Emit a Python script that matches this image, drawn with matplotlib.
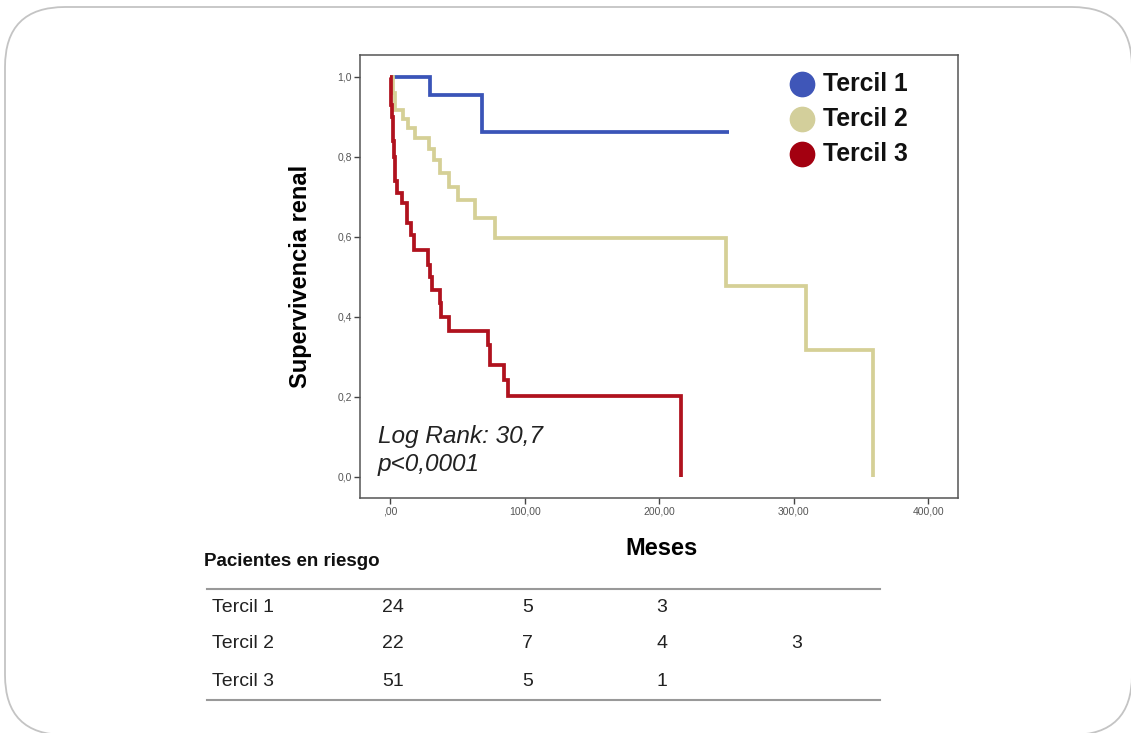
import matplotlib
matplotlib.use("Agg")
import matplotlib.pyplot as plt
from matplotlib.patches import FancyBboxPatch
from matplotlib.transforms import blended_transform_factory

plt.rcParams['font.family'] = ['Liberation Sans', 'DejaVu Sans']

# ---- data ----
series_names = ["Tercil 1", "Tercil 2", "Tercil 3"]
colors = ["#3A54B8", "#D5D096", "#B0121E"]
legend_colors = ["#3F56B8", "#D3CF9B", "#A30010"]

t1 = [0, 30, 68, 252]
s1 = [1.0, 0.955, 0.862, 0.862]

t2 = [0, 2, 4, 10, 13, 18.6, 29, 32.7, 37.2, 44, 50.8, 63.2, 78, 250, 309, 359]
s2 = [1.0, 0.96, 0.918, 0.894, 0.872, 0.847, 0.819, 0.7925, 0.759, 0.726, 0.6925, 0.647, 0.597, 0.4775, 0.3175, 0.0]

t3 = [0, 0.5, 1, 1.5, 2, 2.5, 3, 3.5, 4, 5, 8.7, 12.4, 15.5, 17.5, 28.5, 29.5, 31,
      37.2, 38, 44, 73, 74, 85, 88, 216]
s3 = [1.0, 0.96, 0.93, 0.90, 0.87, 0.84, 0.80, 0.77, 0.74, 0.71, 0.684, 0.634, 0.605,
      0.567, 0.53, 0.50, 0.4675, 0.434, 0.40, 0.366, 0.33, 0.28, 0.2425, 0.203, 0.0]

x_ticks = [0, 100, 200, 300, 400]
x_tick_labels = [",00", "100,00", "200,00", "300,00", "400,00"]
y_ticks = [0.0, 0.2, 0.4, 0.6, 0.8, 1.0]
y_tick_labels = ["0,0", "0,2", "0,4", "0,6", "0,8", "1,0"]

risk_times = [0, 100, 200, 300]
risk_rows = ["Tercil 1", "Tercil 2", "Tercil 3"]
risk_t1 = ["24", "5", "3", ""]
risk_t2 = ["22", "7", "4", "3"]
risk_t3 = ["51", "5", "1", ""]

# ---- figure ----
W, H = 1131, 733
fig = plt.figure(figsize=(W / 100, H / 100), dpi=100)

# rounded frame
frame = FancyBboxPatch((0.05, -0.02), 11.27, 7.28,
                       boxstyle="round,pad=0,rounding_size=0.6",
                       transform=fig.dpi_scale_trans, fill=False,
                       edgecolor="#C4C4C4", linewidth=1.3, clip_on=False)
fig.patches.append(frame)

ax_l, ax_r, ax_t, ax_b = 360, 958, 55, 498
ax = fig.add_axes([ax_l / W, 1 - ax_b / H, (ax_r - ax_l) / W, (ax_b - ax_t) / H])

for t, s, c in zip([t1, t2, t3], [s1, s2, s3], colors):
    ax.step(t, s, where="post", color=c, linewidth=2.7,
            solid_capstyle="butt", solid_joinstyle="miter")

ax.set_xlim(-22.3, 422)
ax.set_ylim(-0.0525, 1.055)
ax.set_xticks(x_ticks)
ax.set_xticklabels(x_tick_labels)
ax.set_yticks(y_ticks)
ax.set_yticklabels(y_tick_labels)
ax.tick_params(direction="out", length=4, width=1.0, color="#444444",
               labelsize=7.5, labelcolor="#555555", pad=2)
for sp in ax.spines.values():
    sp.set_color("#555555")
    sp.set_linewidth(1.1)

ax.set_ylabel("Supervivencia renal", fontsize=17, fontweight="bold")
ax.yaxis.set_label_coords(-0.1, 0.5)
ax.yaxis.label.set_va("center")
ax.set_xlabel("Meses", fontsize=17, fontweight="bold")
ax.xaxis.set_label_coords(0.505, -0.113)
ax.xaxis.label.set_va("center")

# legend (manual)
leg_y_px = [84, 119, 154]
for name, c, ypx in zip(series_names, legend_colors, leg_y_px):
    ya = (ax_b - ypx) / (ax_b - ax_t)
    ax.plot([(802 - ax_l) / (ax_r - ax_l)], [ya], marker="o", markersize=17.5,
            color=c, transform=ax.transAxes, clip_on=False, linestyle="none")
    ax.text((823 - ax_l) / (ax_r - ax_l), ya, name, transform=ax.transAxes,
            fontsize=17.8, fontweight="bold", va="center", ha="left", color="#111111")

# log rank
ax.text((378 - ax_l) / (ax_r - ax_l), (ax_b - 437) / (ax_b - ax_t), "Log Rank: 30,7",
        transform=ax.transAxes, fontsize=17.6, style="italic", va="center", ha="left",
        color="#222222")
ax.text((378 - ax_l) / (ax_r - ax_l), (ax_b - 465) / (ax_b - ax_t), "p<0,0001",
        transform=ax.transAxes, fontsize=17.6, style="italic", va="center", ha="left",
        color="#222222")

# risk table
fig.text(204 / W, 1 - 561 / H, "Pacientes en riesgo", fontsize=13.5, fontweight="bold",
         va="center", ha="left", color="#111111")
fig.add_artist(plt.Line2D([207 / W, 880 / W], [1 - 589 / H, 1 - 589 / H],
                          color="#999999", linewidth=1.5, transform=fig.transFigure))
fig.add_artist(plt.Line2D([207 / W, 880 / W], [1 - 700 / H, 1 - 700 / H],
                          color="#999999", linewidth=1.5, transform=fig.transFigure))
row_y_px = [607, 643, 681]
blend = blended_transform_factory(ax.transData, fig.transFigure)
for name, vals, ypx in zip(risk_rows, [risk_t1, risk_t2, risk_t3], row_y_px):
    fig.text(212 / W, 1 - ypx / H, name, fontsize=14, va="center", ha="left",
             color="#222222")
    for tx, v in zip(risk_times, vals):
        if v:
            ax.text(tx + 2, 1 - ypx / H, v, transform=blend, fontsize=14, va="center",
                    ha="center", color="#222222", clip_on=False)

fig.savefig("out.png", dpi=100)
